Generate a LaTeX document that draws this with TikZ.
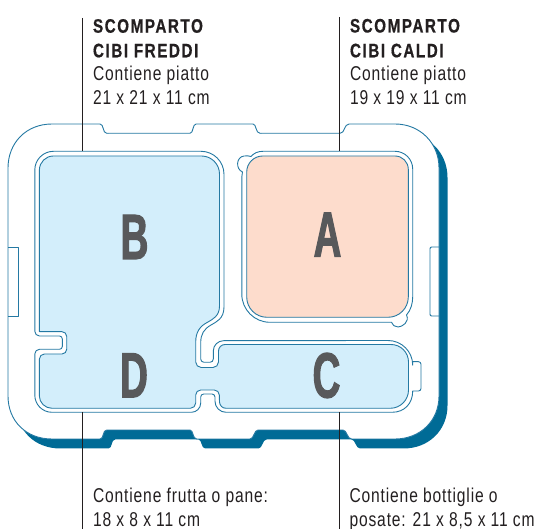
\documentclass[tikz,border=0pt]{standalone}
\usepackage{fontspec}
\setmainfont[FakeStretch=0.78,LetterSpace=4.3]{Liberation Sans}
\newfontfamily\capsfont[FakeStretch=0.78,LetterSpace=8,FakeBold=0.6]{Liberation Sans Bold}
\newfontfamily\bigfont[FakeStretch=0.6,FakeBold=1.6]{Liberation Sans Bold}
\definecolor{shadowblue}{HTML}{006B96}
\definecolor{rimblue}{HTML}{2479A3}
\definecolor{floorblue}{HTML}{D3EEFB}
\definecolor{floorpeach}{HTML}{FDDCCC}
\definecolor{lettergrey}{HTML}{58595B}
\definecolor{textgrey}{HTML}{231F20}
\tikzset{
  rimline/.style={draw=rimblue,line width=0.9pt,line join=round},
  pointer/.style={draw=textgrey,line width=1pt},
  caption/.style={anchor=base west,inner sep=0pt,outer sep=0pt,font=\fontsize{20}{20}\selectfont,text=textgrey},
  captionbold/.style={caption,font=\fontsize{19.5}{20}\capsfont},
  bigletter/.style={anchor=base,inner sep=0pt,outer sep=0pt,font=\fontsize{64}{64}\bigfont,text=lettergrey},
  body outline/.pic={
    \path[pic actions]
      (8,168) .. controls (8,143) and (26,124) .. (52,124) -- (100,124)
      .. controls (104,124) and (102.5,133.3) .. (106.7,133.3) -- (190,133.3)
      .. controls (193.5,133.3) and (192.5,124) .. (196,124) -- (253,124)
      .. controls (256.5,124) and (255.5,133.3) .. (260,133.3) -- (340,133.3)
      .. controls (345,133.3) and (344,124) .. (349,124) -- (395,124)
      .. controls (420,124) and (439,143) .. (439,168) -- (439,396)
      .. controls (439,421) and (420,439) .. (395,439) -- (351.7,439)
      .. controls (347,439) and (347,430) .. (343,430) -- (258,430)
      .. controls (254,430) and (254,439) .. (250,439) -- (196.7,439)
      .. controls (192.5,439) and (193.5,430) .. (190,430) -- (106.7,430)
      .. controls (102.5,430) and (104,439) .. (100,439) -- (52,439)
      .. controls (26,439) and (8,421) .. (8,396) -- cycle;
  }
}
\begin{document}
\begin{tikzpicture}[x=1pt,y=-1pt]
\useasboundingbox (0,0) rectangle (536,529);
% shadow and body
\begin{scope}[shift={(8.5,9.5)}]
  \pic[fill=shadowblue] {body outline};
\end{scope}
\pic[fill=white,draw=rimblue,line width=0.9pt] {body outline};
% handles
\draw[rimline] (8,247) -- (18,247) -- (18,316) -- (8,316);
\draw[rimline] (439,247) -- (432,247) .. controls (430.5,247) and (430,247.5) .. (430,249) -- (430,314) .. controls (430,315.5) and (430.5,316) .. (432,316) -- (439,316);
% B + D + C floor
\path[fill=floorblue,rimline]
  (39.4,170) arc[start angle=180,end angle=270,radius=14] -- (201.5,156)
  arc[start angle=270,end angle=360,radius=18] -- (219.5,306)
  .. controls (219.5,316) and (213,319) .. (208,322)
  .. controls (200,326) and (195.7,332) .. (195.7,342) -- (195.7,362)
  arc[start angle=180,end angle=90,radius=5.5] -- (213,367.5)
  arc[start angle=90,end angle=0,radius=5.5] -- (218.5,351)
  arc[start angle=180,end angle=270,radius=6.5] -- (391,344.5)
  arc[start angle=270,end angle=360,radius=17.5] -- (408.5,390)
  arc[start angle=0,end angle=90,radius=18.3] -- (226,408.3)
  arc[start angle=90,end angle=180,radius=6.5] -- (219.3,395)
  arc[start angle=0,end angle=-90,radius=5] -- (200.7,390)
  arc[start angle=-90,end angle=-180,radius=5] -- (195.7,403)
  arc[start angle=0,end angle=90,radius=5.3] -- (52,408.3)
  arc[start angle=90,end angle=180,radius=12.7] -- (39.4,359)
  arc[start angle=180,end angle=270,radius=5] -- (62,354)
  arc[start angle=90,end angle=0,radius=4.7] -- (66.7,336.4)
  arc[start angle=0,end angle=-90,radius=4.7] -- (39.4,331.7) -- cycle;
% B + D + C rim
\draw[rimline]
  (34.8,170) arc[start angle=180,end angle=270,radius=18.7] -- (201,151.3)
  arc[start angle=270,end angle=360,radius=23] -- (224,307)
  .. controls (224,319) and (216,322) .. (211,325)
  .. controls (204,329) and (200.7,334) .. (200.7,343) -- (200.7,359)
  arc[start angle=180,end angle=90,radius=3.3] -- (210,362.3)
  arc[start angle=90,end angle=0,radius=3.3] -- (213.3,351)
  arc[start angle=180,end angle=270,radius=10.3] -- (388,340.5)
  arc[start angle=270,end angle=360,radius=24.7] -- (412.7,361.7) -- (418.5,361.7)
  arc[start angle=-90,end angle=0,radius=2.5] -- (421,388.5)
  arc[start angle=0,end angle=90,radius=2.5] -- (412.7,391)
  .. controls (412.7,403) and (405,412.3) .. (392,412.3) -- (226,412.3)
  arc[start angle=90,end angle=180,radius=11] -- (215,397)
  arc[start angle=0,end angle=-90,radius=3] -- (203.7,394)
  arc[start angle=-90,end angle=-180,radius=3] -- (200.7,403)
  arc[start angle=0,end angle=90,radius=9.3] -- (52,412.3)
  arc[start angle=90,end angle=180,radius=17.2] -- (34.8,354)
  arc[start angle=180,end angle=270,radius=4.7] -- (59.5,349.3)
  arc[start angle=90,end angle=0,radius=2.8] -- (62.3,338.8)
  arc[start angle=0,end angle=-90,radius=2.8] -- (39.5,336)
  arc[start angle=90,end angle=180,radius=4.7] -- cycle;
% A floor
\path[fill=floorpeach,rimline]
  (246.7,172) arc[start angle=180,end angle=270,radius=16] -- (395,156)
  arc[start angle=270,end angle=360,radius=13.3] -- (408.3,297)
  arc[start angle=0,end angle=90,radius=20.3] -- (267,317.3)
  arc[start angle=90,end angle=180,radius=20.3] -- cycle;
% A rim
\draw[rimline]
  (241.8,177) .. controls (241.8,175) and (241.8,174) .. (242.5,172)
  .. controls (235.5,169) and (236,157) .. (244,156)
  .. controls (247,155.5) and (249,156) .. (251,156.5)
  .. controls (254,153) and (258,151.3) .. (263,151.3) -- (395,151.3)
  arc[start angle=270,end angle=360,radius=17.7] -- (412.7,297)
  .. controls (412.7,303) and (411,310) .. (406.5,315)
  .. controls (410,322) and (402,327) .. (398,327)
  .. controls (395,327) and (392,325) .. (391.5,322.3) -- (270,322.3)
  arc[start angle=90,end angle=180,radius=28.2] -- cycle;
% pointers
\coordinate (tl) at (82.7,18); \coordinate (tla) at (82.7,151.3);
\coordinate (tr) at (339.4,17); \coordinate (tra) at (339.4,151.3);
\coordinate (bl) at (82.7,529); \coordinate (bla) at (82.7,412.3);
\coordinate (br) at (339.4,529); \coordinate (bra) at (339.4,412.3);
\draw[pointer] (tl) -- (tla);
\draw[pointer] (tr) -- (tra);
\draw[pointer] (bla) -- (bl);
\draw[pointer] (bra) -- (br);
% letters
\node[bigletter] (lb) at (134.5,259) {B};
\node[bigletter] (la) at (327.5,256.7) {A};
\node[bigletter] (ld) at (134,397.3) {D};
\node[bigletter] (lc) at (326.5,397.5) {C};
% captions
\node[captionbold] (c1) at (93,32.7) {SCOMPARTO};
\node[captionbold] (c2) at (93,57.3) {CIBI FREDDI};
\node[caption] (c3) at (93,80.7) {Contiene piatto};
\node[caption] (c4) at (93,105) {21 x 21 x 11 cm};
\node[captionbold] (d1) at (350,32.5) {SCOMPARTO};
\node[captionbold] (d2) at (350,57.3) {CIBI CALDI};
\node[caption] (d3) at (350,80.7) {Contiene piatto};
\node[caption] (d4) at (350,104.5) {19 x 19 x 11 cm};
\node[caption] (e1) at (93,502.7) {Contiene frutta o pane:};
\node[caption] (e2) at (93,526.5) {18 x 8 x 11 cm};
\node[caption] (f1) at (349.5,502.7) {Contiene bottiglie o};
\node[caption] (f2) at (349.5,526.5) {posate: 21 x 8,5 x 11 cm};
\end{tikzpicture}
\end{document}
